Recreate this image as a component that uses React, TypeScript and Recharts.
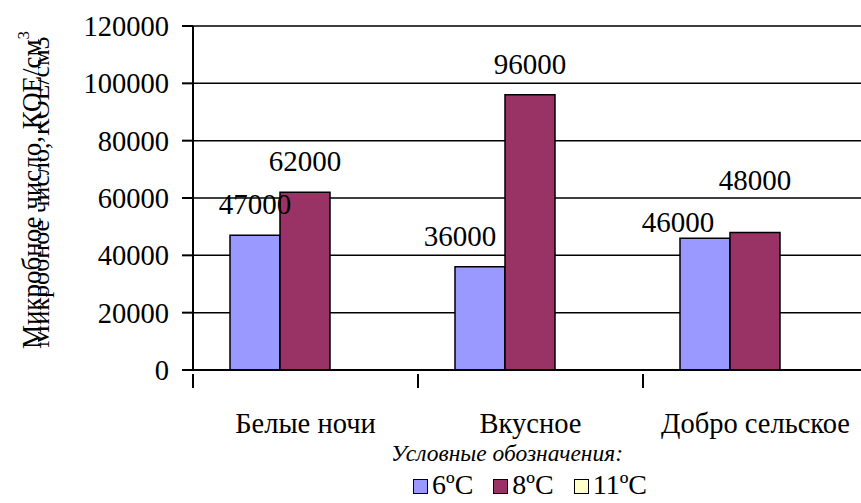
import React from 'react';
import { BarChart, Bar, XAxis, YAxis, CartesianGrid, LabelList, Legend } from 'recharts';

const categories = ['Белые ночи', 'Вкусное', 'Добро сельское'];
const temp6 = [47000, 36000, 46000];
const temp8 = [62000, 96000, 48000];
const temp11 = [0, 0, 0];
const yTicks = [0, 20000, 40000, 60000, 80000, 100000, 120000];

const seriesNames = ['6ºC', '8ºC', '11ºC'];
const seriesColors = ['#9999FF', '#993366', '#FFFFCC'];

// hand-moved labels in the original (series key + category index -> dx, dy)
const labelNudge: Record<string, [number, number]> = {
  't6-1': [-20, 0],
  't6-2': [-27, 15],
  't8-2': [0, -21],
};

const FONT = 'Liberation Serif, DejaVu Serif, Times New Roman, serif';
const CHART_W = 880;
const CHART_H = 503;
const Y_W = 193;
const MARGIN = { top: 26, right: 12, left: 0, bottom: 3 };

const data = categories.map((name, i) => ({
  name,
  t6: temp6[i],
  t8: temp8[i],
  t11: temp11[i],
}));

const bandWidth = (CHART_W - MARGIN.right - MARGIN.left - Y_W) / categories.length;
const txt = { fontFamily: FONT };

const CategoryTick = ({ x, y, payload }: any) => {
  const left = x - bandWidth / 2;
  return (
    <g>
      <line x1={left} y1={y - 4} x2={left} y2={y + 10} stroke="#000" strokeWidth={2} />
      <text x={x} y={y + 55} textAnchor="middle" style={txt} fontSize={28.5} fill="#000">
        {payload.value}
      </text>
    </g>
  );
};

const YTick = ({ x, y, payload }: any) => (
  <text x={x} y={y + 10} textAnchor="end" style={txt} fontSize={28.5} fill="#000">
    {payload.value}
  </text>
);

const makeLabel = (key: string) => (props: any) => {
  const { x, y, width, value, index } = props;
  const [dx, dy] = labelNudge[`${key}-${index}`] || [0, 0];
  return (
    <text
      x={x + width / 2 + dx}
      y={y - 21 + dy}
      textAnchor="middle"
      style={txt}
      fontSize={29}
      fill="#000"
    >
      {value}
    </text>
  );
};

const YLabel = () => (
  <g style={txt} fill="#000">
    <defs>
      <clipPath id="ylabel-clip" clipPathUnits="userSpaceOnUse">
        <rect x={38} y={0} width={20} height={400} />
      </clipPath>
    </defs>
    <g clipPath="url(#ylabel-clip)">
      <text transform="translate(49,192) rotate(-90)" textAnchor="middle" fontSize={26}>
        Микробное число, КОЕ/см3
      </text>
    </g>
    <text transform="translate(41,190) rotate(-90)" textAnchor="middle" fontSize={27}>
      Микробное число, КОЕ/см
      <tspan dy={-12} fontSize={17}>3</tspan>
    </text>
  </g>
);

const LegendBox = () => (
  <div style={{ width: 861, height: 70, fontFamily: FONT, color: '#000' }}>
    <div
      style={{
        fontStyle: 'italic',
        fontSize: 23.5,
        lineHeight: '26px',
        paddingTop: 10,
        paddingLeft: 153,
        textAlign: 'center',
      }}
    >
      Условные обозначения:
    </div>
    <div
      style={{
        fontSize: 28,
        lineHeight: '30px',
        marginTop: 4,
        paddingLeft: 199,
        display: 'flex',
        justifyContent: 'center',
        alignItems: 'center',
      }}
    >
      {seriesNames.map((n, i) => (
        <span
          key={n}
          style={{ display: 'inline-flex', alignItems: 'center', marginRight: i < 2 ? 20 : 0 }}
        >
          <span
            style={{
              display: 'inline-block',
              width: 13,
              height: 13,
              background: seriesColors[i],
              border: '1.5px solid #000',
              marginRight: 4,
              marginTop: 3,
            }}
          />
          {n}
        </span>
      ))}
    </div>
  </div>
);

export default function App() {
  return (
    <div
      style={{
        position: 'fixed',
        left: 0,
        top: 0,
        width: 861,
        height: 503,
        overflow: 'hidden',
        background: '#fff',
        fontFamily: FONT,
      }}
    >
      <BarChart
        width={CHART_W}
        height={CHART_H}
        data={data}
        margin={MARGIN}
        barCategoryGap={37}
        barGap={0}
        style={txt}
      >
        <CartesianGrid vertical={false} stroke="#000" strokeWidth={1.5} />
        <XAxis
          dataKey="name"
          height={60}
          axisLine={{ stroke: '#000', strokeWidth: 2 }}
          tickLine={false}
          tick={<CategoryTick />}
          interval={0}
        />
        <YAxis
          width={Y_W}
          domain={[0, 120000]}
          ticks={yTicks}
          interval={0}
          axisLine={{ stroke: '#000', strokeWidth: 2 }}
          tickLine={{ stroke: '#000', strokeWidth: 2 }}
          tickSize={11}
          tickMargin={13}
          tick={<YTick />}
          label={{ content: () => <YLabel /> }}
        />
        <Legend verticalAlign="bottom" align="left" content={() => <LegendBox />} />
        <Bar dataKey="t6" name={seriesNames[0]} fill={seriesColors[0]} stroke="#000" strokeWidth={1.5} isAnimationActive={false}>
          <LabelList dataKey="t6" content={makeLabel('t6')} />
        </Bar>
        <Bar dataKey="t8" name={seriesNames[1]} fill={seriesColors[1]} stroke="#000" strokeWidth={1.5} isAnimationActive={false}>
          <LabelList dataKey="t8" content={makeLabel('t8')} />
        </Bar>
        <Bar dataKey="t11" name={seriesNames[2]} fill={seriesColors[2]} stroke="#000" strokeWidth={1.5} isAnimationActive={false}>
          <LabelList dataKey="t11" content={makeLabel('t11')} />
        </Bar>
      </BarChart>
    </div>
  );
}
